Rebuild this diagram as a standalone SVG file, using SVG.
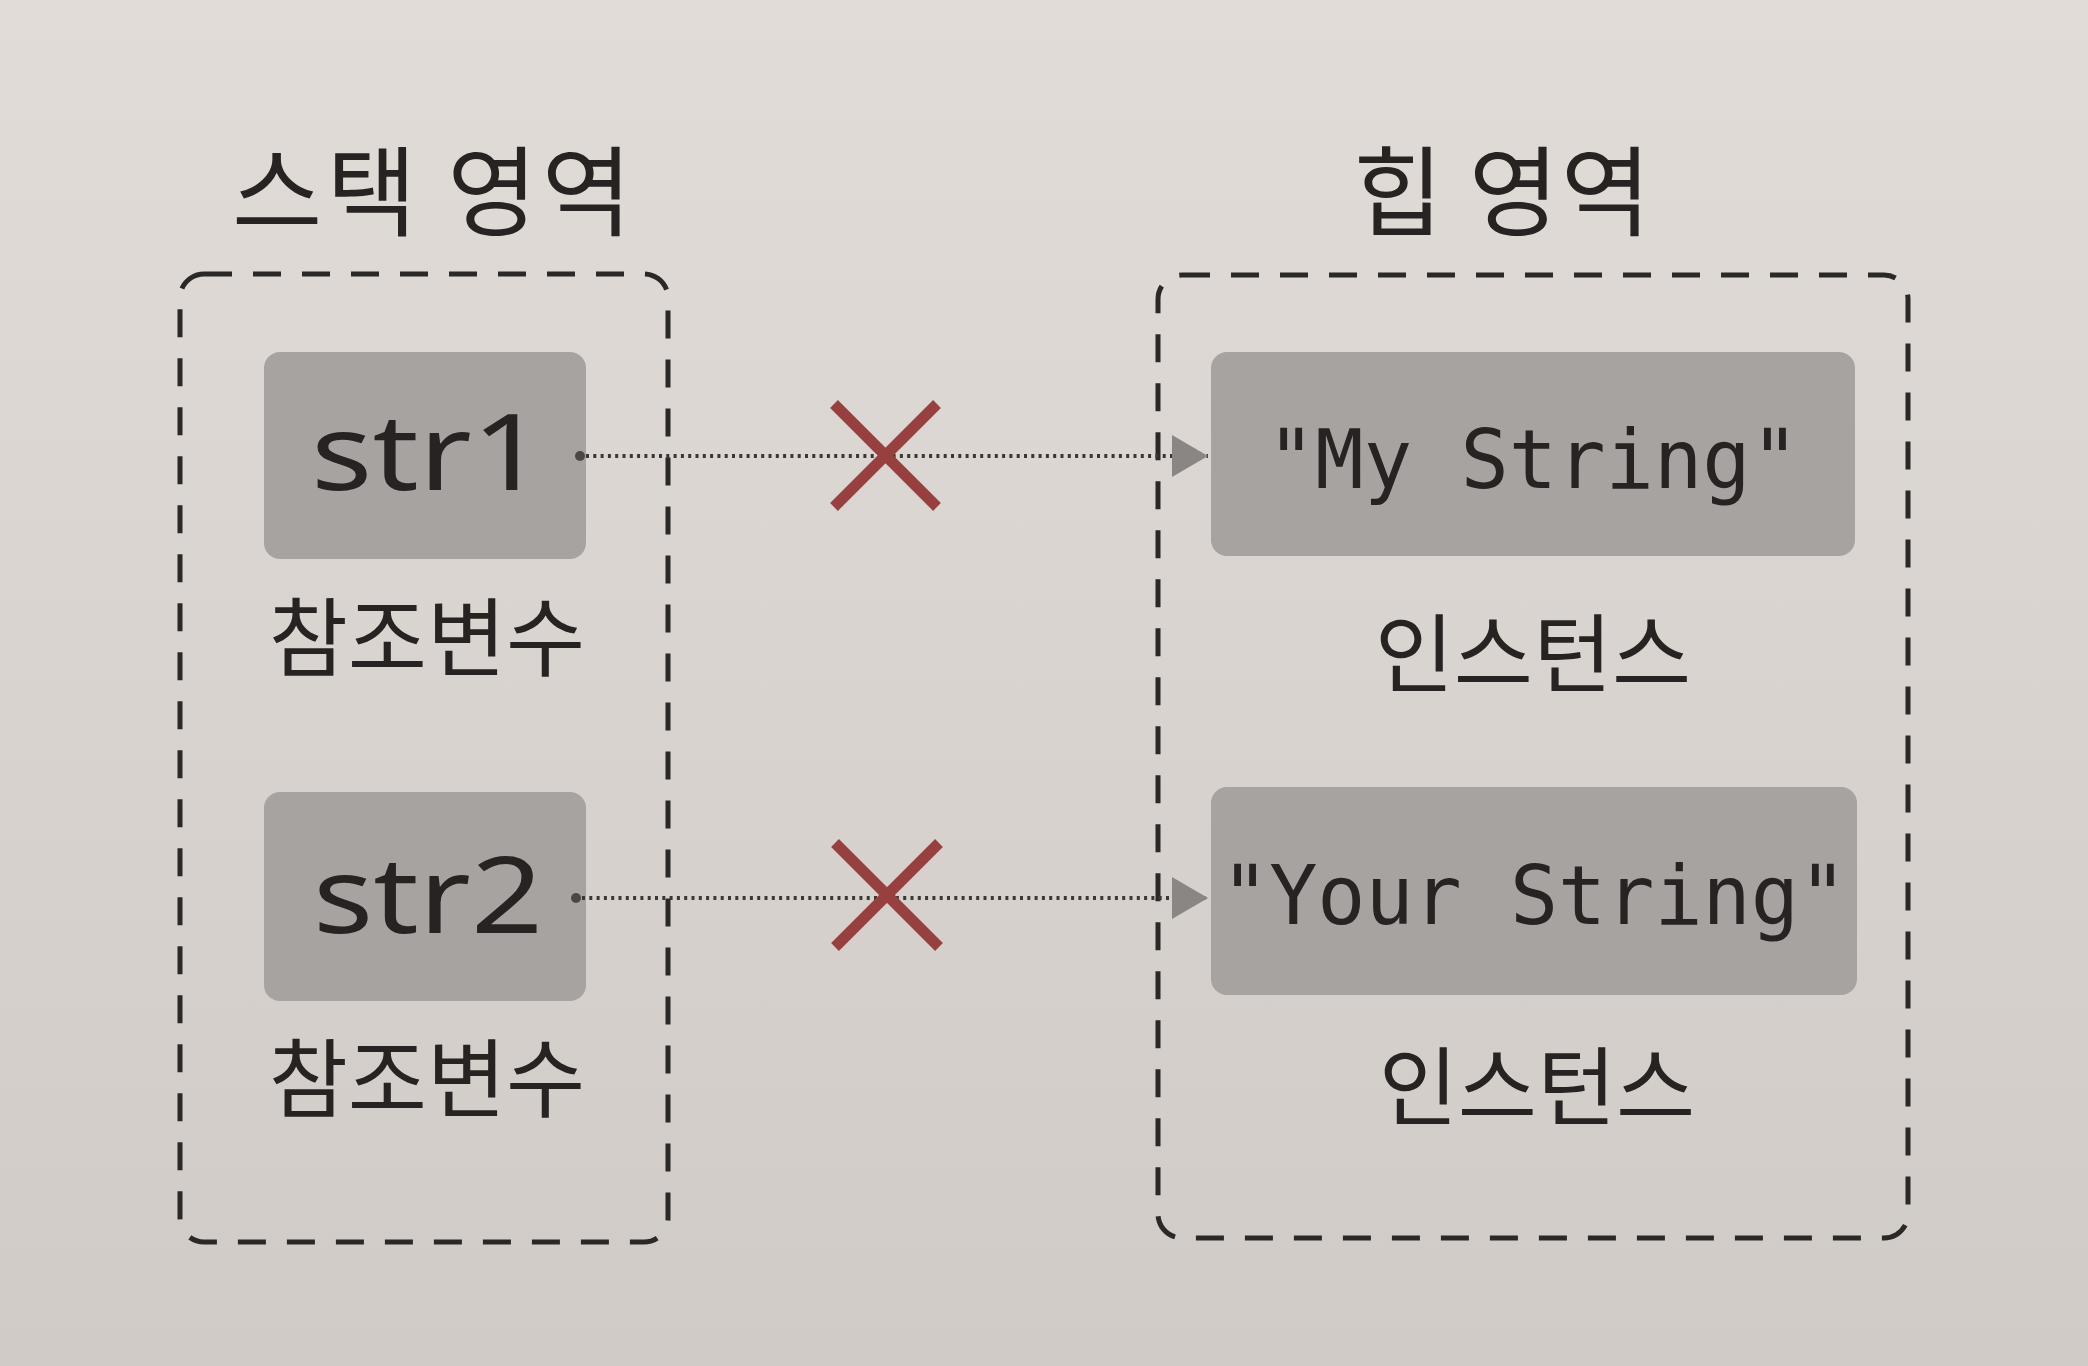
<svg xmlns="http://www.w3.org/2000/svg" width="2088" height="1366" viewBox="0 0 2088 1366">
<defs>
  <linearGradient id="bg" x1="0" y1="0" x2="0" y2="1">
    <stop offset="0" stop-color="#e1dcd7"/>
    <stop offset="1" stop-color="#d0cbc6"/>
  </linearGradient>
  <marker id="arrow" viewBox="0 0 36 42" refX="36" refY="21" markerWidth="36" markerHeight="42" markerUnits="userSpaceOnUse" orient="auto">
    <path d="M0,0 L36,21 L0,42 Z" fill="#8a8683"/>
  </marker>
  <style>
    .region{fill:none;stroke:#2b2927;stroke-width:5;stroke-dasharray:28 21}
    .cell{fill:#a7a3a0}
    .title{font-family:"Noto Sans CJK KR","Noto Sans",sans-serif;font-size:98px;fill:#262322;text-anchor:middle}
    .label{font-family:"Noto Sans CJK KR","Noto Sans",sans-serif;font-size:86px;fill:#262322;text-anchor:middle}
    .var{font-family:"Noto Sans","Noto Sans CJK KR",sans-serif;font-size:106px;fill:#262322;text-anchor:middle}
    .val{font-family:"DejaVu Sans Mono","Liberation Mono",monospace;font-size:82px;fill:#262322;text-anchor:middle}
    .link{stroke:#3a3735;stroke-width:4;stroke-dasharray:3 4.3;fill:none}
    .cross{stroke:#98403f;stroke-width:11}
    .dot{fill:#4a4745}
  </style>
</defs>
<rect x="0" y="0" width="2088" height="1366" fill="url(#bg)"/>

<g id="stack-region">
  <rect class="region" x="180" y="274" width="488" height="968" rx="24"/>
  <text class="title" x="432" y="228" textLength="400" lengthAdjust="spacing">스택 영역</text>
</g>
<g id="heap-region">
  <rect class="region" x="1158" y="275" width="750" height="963" rx="24"/>
  <text class="title" x="1502" y="228" textLength="298" lengthAdjust="spacing">힙 영역</text>
</g>

<g id="str1">
  <rect class="cell" x="264" y="352" width="322" height="207" rx="16"/>
  <text class="var" x="428" y="490" textLength="234" lengthAdjust="spacingAndGlyphs">str1</text>
  <text class="label" x="427" y="670">참조변수</text>
</g>
<g id="str2">
  <rect class="cell" x="264" y="792" width="322" height="209" rx="16"/>
  <text class="var" x="428" y="933" textLength="230" lengthAdjust="spacingAndGlyphs">str2</text>
  <text class="label" x="427" y="1111">참조변수</text>
</g>
<g id="my-string">
  <rect class="cell" x="1211" y="352" width="644" height="204" rx="16"/>
  <text class="val" x="1533" y="488" textLength="532" lengthAdjust="spacingAndGlyphs">"My String"</text>
  <text class="label" x="1533" y="686">인스턴스</text>
</g>
<g id="your-string">
  <rect class="cell" x="1211" y="787" width="646" height="208" rx="16"/>
  <text class="val" x="1534" y="924" textLength="626" lengthAdjust="spacingAndGlyphs">"Your String"</text>
  <text class="label" x="1537" y="1119">인스턴스</text>
</g>

<g id="connectors">
  <circle class="dot" cx="580" cy="456" r="5"/>
  <line class="link" x1="586" y1="456" x2="1208" y2="456" marker-end="url(#arrow)"/>
  <circle class="dot" cx="576" cy="898" r="5"/>
  <line class="link" x1="582" y1="898" x2="1208" y2="898" marker-end="url(#arrow)"/>
  <g class="cross">
    <line x1="834" y1="404" x2="937" y2="507"/>
    <line x1="937" y1="404" x2="834" y2="507"/>
    <line x1="835" y1="843" x2="939" y2="947"/>
    <line x1="939" y1="843" x2="835" y2="947"/>
  </g>
</g>
</svg>
